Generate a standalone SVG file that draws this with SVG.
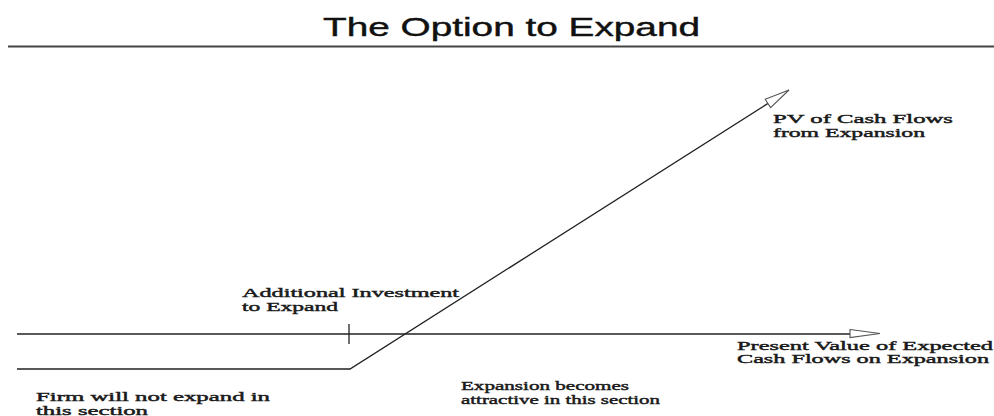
<svg xmlns="http://www.w3.org/2000/svg" width="994" height="416" viewBox="0 0 994 416">
<style>
.title{font-family:"Liberation Sans",Arial,sans-serif;font-size:25px;fill:#111;stroke:#111;stroke-width:0.4}
.lbl{font-family:"Liberation Serif","Times New Roman",serif;font-size:13.5px;fill:#1a1a1a;stroke:#1a1a1a;stroke-width:0.45}
.ln{stroke:#222;stroke-width:1.3;fill:none}
.ah{stroke:#555;stroke-width:1.1;fill:#fff}
</style>
<rect width="994" height="416" fill="#fff"/>
<g id="title">
<text class="title" x="323" y="36" textLength="377" lengthAdjust="spacingAndGlyphs">The Option to Expand</text>
<line x1="8" y1="46.5" x2="994" y2="46.5" stroke="#444" stroke-width="2"/>
</g>
<g id="connectors">
<line class="ln" x1="17" y1="334" x2="851" y2="334"/>
<polygon class="ah" points="850,329.5 880,333.5 850,337.5"/>
<line class="ln" x1="349" y1="324" x2="349" y2="344"/>
<polyline class="ln" points="17,369 350,369 768,103.4"/>
<polygon class="ah" points="765.2,99.2 789,90 770.6,107.6"/>
</g>
<g id="label-pv">
<text class="lbl" x="773" y="123" textLength="180" lengthAdjust="spacingAndGlyphs">PV of Cash Flows</text>
<text class="lbl" x="773" y="137" textLength="152" lengthAdjust="spacingAndGlyphs">from Expansion</text>
</g>
<g id="label-investment">
<text class="lbl" x="242" y="296.5" textLength="217" lengthAdjust="spacingAndGlyphs">Additional Investment</text>
<text class="lbl" x="242" y="310.5" textLength="96" lengthAdjust="spacingAndGlyphs">to Expand</text>
</g>
<g id="label-axis">
<text class="lbl" x="737" y="349.5" textLength="256" lengthAdjust="spacingAndGlyphs">Present Value of Expected</text>
<text class="lbl" x="737" y="363" textLength="252" lengthAdjust="spacingAndGlyphs">Cash Flows on Expansion</text>
</g>
<g id="label-no-expand">
<text class="lbl" x="36" y="400.5" textLength="234" lengthAdjust="spacingAndGlyphs">Firm will not expand in</text>
<text class="lbl" x="36" y="414.5" textLength="112" lengthAdjust="spacingAndGlyphs">this section</text>
</g>
<g id="label-attractive">
<text class="lbl" x="461" y="390" textLength="168" lengthAdjust="spacingAndGlyphs">Expansion becomes</text>
<text class="lbl" x="461" y="403.5" textLength="199" lengthAdjust="spacingAndGlyphs">attractive in this section</text>
</g>
</svg>
